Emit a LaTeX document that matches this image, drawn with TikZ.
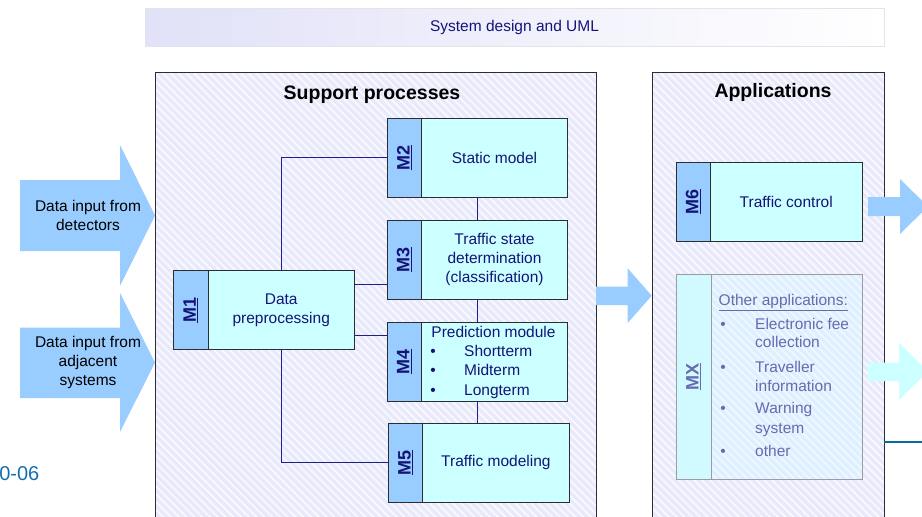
\documentclass[tikz,border=0pt]{standalone}
\usepackage{fontspec}
\setmainfont{Liberation Sans}
\usetikzlibrary{calc,patterns.meta}

\definecolor{ink}{RGB}{20,20,120}
\definecolor{wire}{RGB}{30,30,140}
\definecolor{stripblue}{RGB}{153,204,255}
\definecolor{bodycyan}{RGB}{204,255,255}
\definecolor{lav}{RGB}{233,233,252}
\definecolor{edge}{RGB}{45,45,45}
\definecolor{fadeink}{RGB}{105,105,175}
\definecolor{fadeedge}{RGB}{155,155,160}
\definecolor{fadestrip}{RGB}{208,250,255}
\definecolor{fadebody}{RGB}{222,240,255}
\definecolor{datecol}{RGB}{18,110,175}
\definecolor{rulecol}{RGB}{12,106,160}
\definecolor{bannerleft}{RGB}{225,225,248}
\definecolor{banneredge}{RGB}{228,228,232}

% thicker underline for the module tags
\newcommand\tagline[1]{\underline{#1}}

% one module: frame, coloured tag strip, rotated tag, body text
\newcommand\drawmodule[6]{%
  % #1 name, #2 north-west corner, #3 width, #4 height, #5 tag, #6 body text
  \node[modframe, minimum width=#3, minimum height=#4, anchor=north west] (#1) at (#2) {};
  \node[modstrip, minimum height=#4, anchor=north west] (#1s) at (#1.north west) {};
  \node[modtag] (#1l) at (#1s.center) {\tagline{#5}};
  \node[modtext] (#1t) at ($(#1s.east)!0.5!(#1.east)$) {#6};
}

\begin{document}
\begin{tikzpicture}[x=1pt,y=-1pt,
  basefont/.style={font=\fontsize{15.5}{19}\selectfont},
  panel/.style={draw=edge, line width=0.9pt, preaction={fill=lav},
    pattern={Lines[angle=-45,distance=5.5pt,line width=1.7pt]},
    pattern color=white!75!lav},
  paneltitle/.style={font=\fontsize{19.5}{22}\selectfont\bfseries, text=black,
    inner sep=0pt},
  modframe/.style={draw=edge, line width=0.9pt, fill=bodycyan,
    inner sep=0pt, outer sep=0pt},
  modstrip/.style={draw=edge, line width=0.9pt, fill=stripblue,
    minimum width=34.5pt, inner sep=0pt, outer sep=0pt},
  modtag/.style={font=\fontsize{18}{20}\selectfont\bfseries,
    text=ink, rotate=90, inner sep=0pt},
  modtext/.style={basefont, text=ink, align=center, inner sep=0pt},
  linetext/.style={basefont, text=ink, inner sep=0pt, anchor=base west},
  dot/.style={basefont, text=ink, inner sep=0pt, anchor=base},
  wireline/.style={draw=wire, line width=1.3pt},
  bigarrow/.style={fill=stripblue, draw=none},
  arrowtext/.style={basefont, text=black, align=center, inner sep=0pt},
]
\useasboundingbox (0,0) rectangle (922,517);
\clip (0,0) rectangle (922,517);

% heading banner
\node[draw=banneredge, line width=0.8pt, left color=bannerleft, right color=white,
      minimum width=739pt, minimum height=38pt, inner sep=0pt,
      basefont, text=ink] (banner) at (514.5,27) {System design and UML};

% the two group panels
\draw[panel] (155,72) rectangle (596,540);
\node[paneltitle] (sptitle) at (372,95) {Support processes};
\draw[panel] (652,72) rectangle (884,540);
\node[paneltitle] (aptitle) at (773,92) {Applications};

% input arrows on the left
\fill[bigarrow] (20,180) -- (120,180) -- (120,145) -- (155,215.5)
  -- (120,286) -- (120,251) -- (20,251) -- cycle;
\node[arrowtext] (in1) at (88,215) {Data input from\\detectors};
\fill[bigarrow] (20,327.5) -- (120,327.5) -- (120,293) -- (155,362.5)
  -- (120,432) -- (120,398) -- (20,398) -- cycle;
\node[arrowtext] (in2) at (88,362) {Data input from\\adjacent\\systems};

% arrow between the panels
\fill[bigarrow] (596,286.7) -- (627.7,286.7) -- (627.7,268.3) -- (651.7,295.7)
  -- (627.7,323) -- (627.7,305) -- (596,305) -- cycle;

% support modules
\drawmodule{m1}{173.5,270.5}{181pt}{79pt}{M1}{Data\\preprocessing}
\drawmodule{m2}{387,118}{180.5pt}{79pt}{M2}{Static model}
\drawmodule{m3}{387,220}{180.5pt}{79pt}{M3}{Traffic state\\determination\\(classification)}
\drawmodule{m4}{387,322}{180.5pt}{79pt}{M4}{}
\drawmodule{m5}{388.3,423}{180.7pt}{79pt}{M5}{Traffic modeling}

% contents of the prediction module
\node[modtext, anchor=base] (m4h) at (493.5,337) {Prediction module};
\node[dot] (m4d1) at (433,356.2) {\textbullet};
\node[dot] (m4d2) at (433,375.5) {\textbullet};
\node[dot] (m4d3) at (433,395.2) {\textbullet};
\node[linetext] (m4a) at (464,356.2) {Shortterm};
\node[linetext] (m4b) at (464,375.5) {Midterm};
\node[linetext] (m4c) at (464,395.2) {Longterm};

% connections between the support modules
\draw[wireline] (m2s.west) -| (m1t |- m1.north);
\draw[wireline] (m2.south) -- (m3.north);
\draw[wireline] (m3.south) -- (m4.north);
\draw[wireline] (m4.south) -- (m4.south |- m5.north);
\coordinate (m1up) at ([yshift=-14pt]m1.north east);
\coordinate (m1dn) at ([yshift=14pt]m1.south east);
\draw[wireline] (m1up) -- (m1up -| m3.west);
\draw[wireline] (m1dn) -- (m1dn -| m4.west);
\draw[wireline] (m1t |- m1.south) |- (m5.west);

% applications
\drawmodule{m6}{676,162}{186pt}{79pt}{M6}{Traffic control}

\begin{scope}[
  modframe/.style={draw=fadeedge, line width=0.9pt, preaction={fill=fadebody},
    inner sep=0pt, outer sep=0pt,
    pattern={Lines[angle=-45,distance=5.5pt,line width=1.5pt]},
    pattern color=white!60!fadebody},
  modstrip/.style={draw=fadeedge, line width=0.9pt, fill=fadestrip,
    minimum width=35pt, inner sep=0pt, outer sep=0pt},
  modtag/.style={font=\fontsize{18}{20}\selectfont\bfseries,
    text=fadeink, rotate=90, inner sep=0pt},
  linetext/.style={basefont, text=fadeink, inner sep=0pt, anchor=base west},
  dot/.style={basefont, text=fadeink, inner sep=0pt, anchor=base},
]
\drawmodule{mx}{676,274}{186.3pt}{205pt}{MX}{}
\node[linetext] (mxh) at (718.5,305.5) {\underline{Other applications:}};
\node[dot] (mxd1) at (723,329) {\textbullet};
\node[dot] (mxd2) at (723,372) {\textbullet};
\node[dot] (mxd3) at (723,413.5) {\textbullet};
\node[dot] (mxd4) at (723,456.5) {\textbullet};
\node[linetext] (mxa1) at (755,329) {Electronic fee};
\node[linetext] (mxa2) at (755,347.5) {collection};
\node[linetext] (mxb1) at (755,372) {Traveller};
\node[linetext] (mxb2) at (755,391) {information};
\node[linetext] (mxc1) at (755,413.5) {Warning};
\node[linetext] (mxc2) at (755,433) {system};
\node[linetext] (mxd) at (755,456.5) {other};
\end{scope}

% output arrows on the right
\fill[bigarrow] (868,197) -- (900,197) -- (900,179) -- (928,206.5)
  -- (900,234) -- (900,216) -- (868,216) -- cycle;
\fill[fill=bodycyan] (868,362.7) -- (899,362.7) -- (899,342.7) -- (928,371.5)
  -- (899,400) -- (899,381) -- (868,381) -- cycle;

% rule leaving the applications panel
\coordinate (rulea) at (883.5,442.3);
\coordinate (ruleb) at (922,442.3);
\draw[draw=rulecol, line width=2.2pt] (rulea) -- (ruleb);

% page footer fragment
\node[font=\fontsize{20}{24}\selectfont, text=datecol, inner sep=0pt,
      anchor=base east] (footer) at (39.5,480.5) {0-06};
\end{tikzpicture}
\end{document}
